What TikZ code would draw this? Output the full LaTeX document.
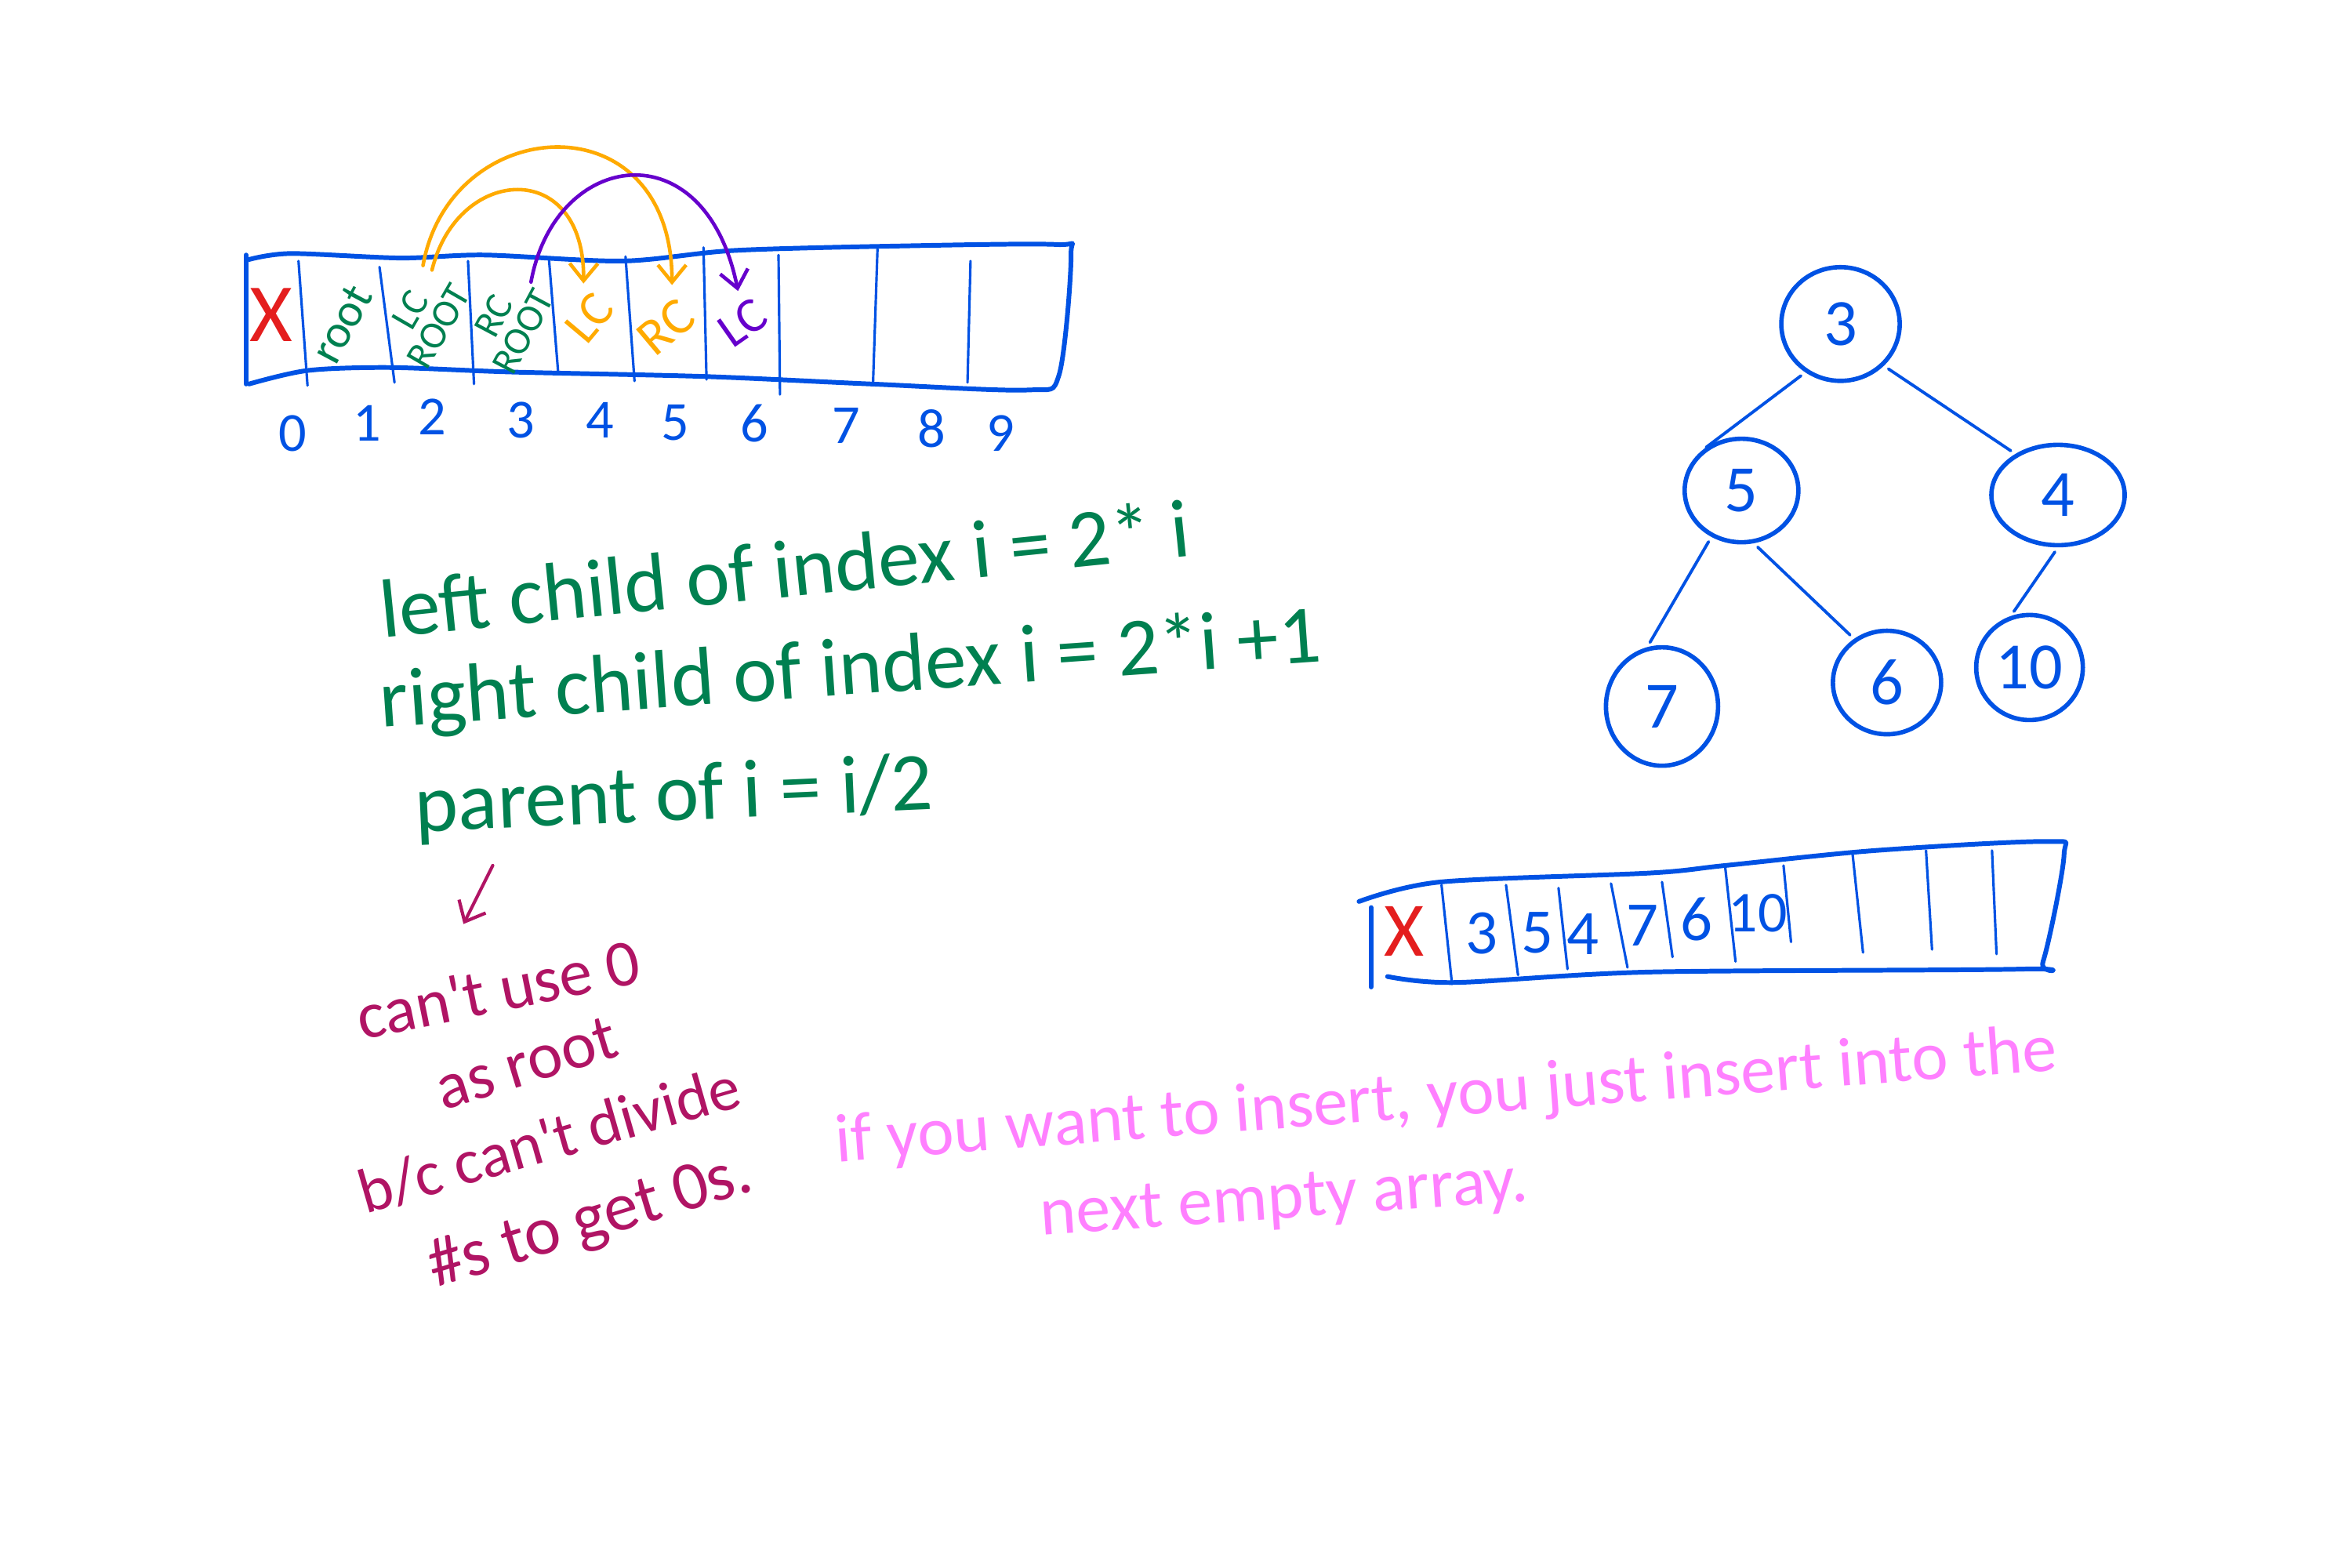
\documentclass[tikz,border=0pt]{standalone}
\usepackage{fontspec}
\newfontfamily\handfont{Carlito}
\usetikzlibrary{arrows.meta,shapes.geometric}

\definecolor{inkblue}{RGB}{0,82,228}
\definecolor{inkgreen}{RGB}{0,128,80}
\definecolor{inkred}{RGB}{228,30,30}
\definecolor{inkorange}{RGB}{255,170,0}
\definecolor{inkpurple}{RGB}{102,0,204}
\definecolor{inkmagenta}{RGB}{176,20,100}
\definecolor{inkpink}{RGB}{255,128,255}

\tikzset{
    arrayline/.style={inkblue, line width=1.7pt, line cap=round, line join=round},
    divider/.style={inkblue, line width=0.9pt, line cap=round},
    hand/.style={inner sep=0pt},
    idxtext/.style={hand, inkblue, font=\handfont\fontsize{20}{24}\selectfont},
    celltext/.style={hand, inkgreen, align=center, font=\handfont\fontsize{14}{12}\selectfont},
    crossmark/.style={hand, inkred, font=\handfont\fontsize{30}{30}\selectfont},
    hoparrow/.style={line width=1.3pt, line cap=round, -{Straight Barb[length=2.2mm, width=3.6mm]}},
    treenode/.style={draw=inkblue, ellipse, line width=1.6pt, text=inkblue, inner sep=0pt,
        font=\handfont\fontsize{24}{26}\selectfont},
    treebranch/.style={inkblue, line width=1.1pt, line cap=round, shorten <=2pt, shorten >=2pt},
    slottext/.style={hand, inkblue, font=\handfont\fontsize{23}{26}\selectfont},
    ruletext/.style={hand, anchor=base, inkgreen, font=\handfont\fontsize{30}{36}\selectfont},
    notetext/.style={hand, anchor=base, inkmagenta, font=\handfont\fontsize{24}{28}\selectfont},
    asidetext/.style={hand, anchor=base, inkpink, font=\handfont\fontsize{25}{30}\selectfont},
}

\begin{document}
\begin{tikzpicture}[x=1.913mm, y=1.913mm]
\useasboundingbox (0,0) rectangle (156.8,-104.5);

% array with the index labels
\draw[arrayline] (16.4,-17.0) -- (16.4,-25.6);
\draw[arrayline]
    plot[smooth, tension=0.5] coordinates {(16.6,-17.3) (19.4,-16.9) (26.7,-17.2) (32.3,-17.0)
        (41.5,-17.4) (48.9,-16.7) (59.9,-16.4) (70.4,-16.3) (71.4,-17.0) (70.6,-25.0)
        (68.5,-26.0) (58.1,-25.6) (47.0,-25.1) (34.1,-24.8) (26.0,-24.5) (20.5,-24.7) (16.6,-25.6)};
\foreach \xa/\ya/\xb/\yb in {19.9/-17.4/20.5/-25.7, 25.3/-17.8/26.3/-25.5, 31.2/-17.4/31.6/-25.6,
        36.6/-17.3/37.2/-24.7, 41.7/-17.1/42.3/-25.4, 46.9/-16.5/47.1/-25.3,
        51.9/-17.0/52.0/-26.3, 58.5/-16.6/58.2/-25.6, 64.7/-17.4/64.5/-25.5}
    \draw[divider] (\xa,\ya) -- (\xb,\yb);
\foreach \i/\x/\y in {0/19.5/-28.9, 1/24.5/-28.2, 2/28.8/-27.8, 3/34.7/-28.0, 4/40.0/-28.0,
        5/45.0/-28.2, 6/50.3/-28.2, 7/56.4/-28.4, 8/62.1/-28.6, 9/66.7/-28.9}
    \node[idxtext] (idx\i) at (\x,\y) {\i};

\node[crossmark] (cross0) at (18.1,-21.0) {X};
\node[celltext, rotate=62, font=\handfont\fontsize{17}{17}\selectfont] (root1) at (22.8,-21.6) {root};
\node[celltext, rotate=60] (lcroot) at (28.3,-21.2) {LC\\ROOT};
\node[celltext, rotate=62] (rcroot) at (33.9,-21.6) {RC\\ROOT};
\node[celltext, inkorange, rotate=50, font=\handfont\fontsize{18}{18}\selectfont] (lc4) at (39.3,-21.2) {LC};
\node[celltext, inkorange, rotate=40, font=\handfont\fontsize{19}{19}\selectfont] (rc5) at (44.4,-21.8) {RC};
\node[celltext, inkpurple, rotate=35, font=\handfont\fontsize{18}{18}\selectfont] (lc6) at (49.5,-21.5) {LC};

% child arrows
\coordinate (from2a) at (28.2,-17.7);
\coordinate (from2b) at (28.8,-18.0);
\coordinate (from3) at (35.4,-18.8);
\coordinate (to4) at (38.9,-18.9);
\coordinate (to5) at (44.8,-19.0);
\coordinate (to6) at (49.2,-19.4);
\draw[hoparrow, inkorange] (from2a) .. controls (30,-7.5) and (44.8,-6.5) .. (to5);
\draw[hoparrow, inkorange] (from2b) .. controls (30.5,-11) and (39,-10.5) .. (to4);
\draw[hoparrow, inkpurple] (from3) .. controls (37,-10) and (47,-8.5) .. (to6);

% formulas
\node[ruletext, rotate=5.8] (leftrule) at (52.5,-39.8) {left child of index i = 2* i};
\node[ruletext, rotate=4] (rightrule) at (56.8,-46.3) {right child of index i = 2*i +1};
\node[ruletext, rotate=2.5] (parentrule) at (45.0,-54.7) {parent of i = i/2};

% why index 0 stays empty
\coordinate (notetail) at (32.85,-57.7);
\coordinate (notehead) at (30.9,-61.6);
\draw[inkmagenta, line width=1.2pt, line cap=round, -{Straight Barb[length=2.2mm, width=3.8mm]}] (notetail) -- (notehead);
\node[notetext, rotate=11.5] (cantuse) at (33.5,-67.4) {can't use 0};
\node[notetext, rotate=17] (asroot) at (35.5,-72.2) {as root};
\node[notetext, rotate=16, font=\handfont\fontsize{23}{28}\selectfont] (bc) at (37.0,-77.3) {b/c can't divide};
\node[notetext, rotate=17, font=\handfont\fontsize{25}{28}\selectfont] (getzero) at (39.7,-82.6) {\#s to get 0s.};

% insertion remark
\node[asidetext, rotate=4.3] (insert1) at (96.5,-74.4) {if you want to insert, you just insert into the};
\node[asidetext, rotate=4] (insert2) at (85.7,-81.2) {next empty array.};

% heap as a tree
\node[treenode, minimum width=15.1mm, minimum height=14.5mm] (n3) at (122.7,-21.6) {3};
\node[treenode, minimum width=14.5mm, minimum height=13.2mm] (n5) at (116.1,-32.7) {5};
\node[treenode, minimum width=17.0mm, minimum height=12.8mm] (n4) at (137.2,-33.0) {4};
\node[treenode, minimum width=14.3mm, minimum height=15.1mm] (n7) at (110.8,-47.1) {7};
\node[treenode, minimum width=13.8mm, minimum height=13.2mm] (n6) at (125.8,-45.5) {6};
\node[treenode, minimum width=13.6mm, minimum height=13.4mm] (n10) at (135.3,-44.5) {10};
\draw[treebranch] (n3.234) -- (n5.135);
\draw[treebranch] (n3.316) -- (n4.136);
\draw[treebranch] (n5.237) -- (n7.104);
\draw[treebranch] (n5.283) -- (n6.127);
\draw[treebranch] (n4.270) -- (n10.110);

% heap as an array
\draw[arrayline] (91.4,-60.5) -- (91.4,-65.8);
\draw[arrayline]
    plot[smooth, tension=0.5] coordinates {(90.6,-60.1) (96.0,-58.8) (110.0,-58.2) (115.0,-57.7)
        (125.0,-56.7) (136.5,-56.1) (137.6,-57.0) (136.2,-64.1) (135.0,-64.6) (110.0,-64.8)
        (97.0,-65.5) (92.5,-65.1)};
\foreach \xa/\ya/\xb/\yb in {96.1/-59.0/96.8/-65.6, 100.4/-59.0/101.2/-65.0, 103.9/-59.2/104.5/-64.6,
        107.4/-58.9/108.5/-64.5, 110.8/-58.8/111.5/-63.8, 115.0/-57.7/115.7/-64.1,
        118.9/-57.7/119.4/-62.8, 123.5/-56.9/124.2/-63.5, 128.4/-56.7/128.8/-63.3,
        132.8/-56.7/133.1/-63.6}
    \draw[divider] (\xa,\ya) -- (\xb,\yb);
\node[crossmark, font=\handfont\fontsize{28}{28}\selectfont] (slotx) at (93.6,-62.1) {X};
\foreach \v/\x/\y in {3/98.8/-62.2, 5/102.5/-62.2, 4/105.5/-62.3, 7/109.5/-61.7, 6/113.1/-61.3}
    \node[slottext] (slot\v) at (\x,\y) {\v};
\node[slottext, font=\handfont\fontsize{21}{26}\selectfont] (slot10) at (117.2,-60.9) {10};

\end{tikzpicture}
\end{document}
